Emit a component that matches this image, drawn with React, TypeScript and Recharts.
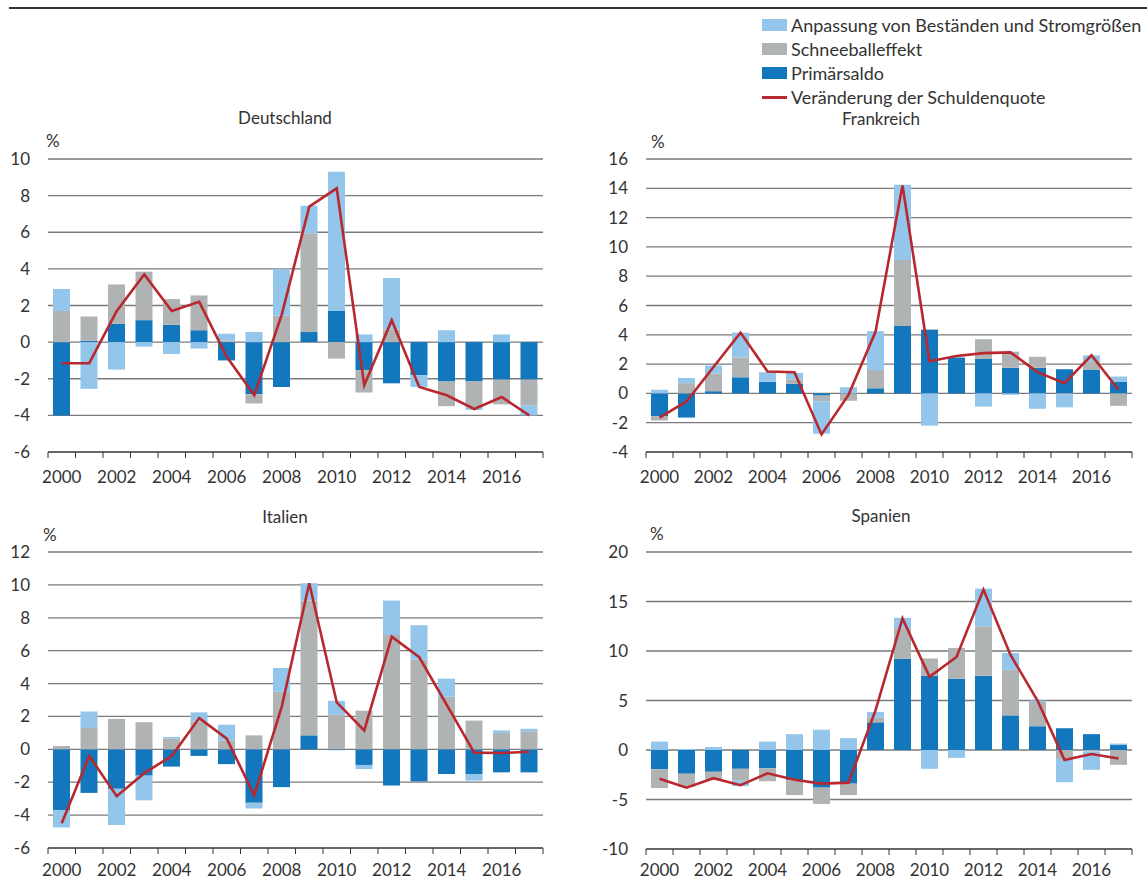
import React from 'react';
import { ComposedChart, Bar, Line, XAxis, YAxis, CartesianGrid } from 'recharts';

const years = [2000, 2001, 2002, 2003, 2004, 2005, 2006, 2007, 2008, 2009, 2010, 2011, 2012, 2013, 2014, 2015, 2016, 2017];

// Deutschland
const dePrimaer = [-4.0, 0.07, 1.0, 1.2, 0.95, 0.65, -1.0, -2.85, -2.45, 0.55, 1.7, -1.53, -2.25, -1.8, -2.15, -2.15, -2.05, -2.05];
const deSchnee = [1.7, 1.33, 2.15, 2.65, 1.4, 1.9, 0.08, -0.5, 1.45, 5.4, -0.9, -1.22, 0.7, 0, -1.35, -1.4, -1.35, -1.4];
const deAnpass = [1.2, -2.55, -1.5, -0.25, -0.65, -0.35, 0.38, 0.55, 2.55, 1.5, 7.6, 0.42, 2.8, -0.65, 0.65, -0.15, 0.42, -0.55];
const deQuote = [-1.15, -1.15, 1.7, 3.7, 1.7, 2.2, -0.8, -2.9, 1.5, 7.4, 8.4, -2.35, 1.2, -2.45, -2.9, -3.65, -3.0, -4.0];

// Frankreich
const frPrimaer = [-1.55, -1.65, 0.15, 1.1, 0.8, 0.65, -0.15, 0.02, 0.35, 4.6, 4.35, 2.45, 2.35, 1.75, 1.75, 1.65, 1.6, 0.8];
const frSchnee = [-0.3, 0.7, 1.2, 1.35, 0, 0.3, -0.4, -0.5, 1.25, 4.5, 0.05, 0, 1.35, 1.1, 0.75, -0.05, 0.6, -0.85];
const frAnpass = [0.25, 0.35, 0.55, 1.7, 0.65, 0.45, -2.2, 0.4, 2.65, 5.15, -2.2, 0, -0.9, -0.1, -1.05, -0.9, 0.4, 0.35];
const frQuote = [-1.65, -0.55, 1.8, 4.15, 1.5, 1.45, -2.8, -0.1, 4.2, 14.2, 2.2, 2.55, 2.75, 2.8, 1.45, 0.7, 2.6, 0.25];

// Italien
const itPrimaer = [-3.7, -2.65, -2.4, -1.6, -1.05, -0.4, -0.9, -3.25, -2.3, 0.85, -0.05, -0.95, -2.2, -1.95, -1.5, -1.5, -1.4, -1.4];
const itSchnee = [0.2, 1.3, 1.85, 1.65, 0.65, 1.7, 0.55, 0.85, 3.5, 8.2, 2.1, 2.35, 6.95, 5.45, 3.2, 1.75, 1.0, 1.1];
const itAnpass = [-1.05, 1.0, -2.2, -1.5, 0.1, 0.55, 0.95, -0.35, 1.45, 1.05, 0.85, -0.25, 2.1, 2.1, 1.1, -0.4, 0.15, 0.15];
const itQuote = [-4.5, -0.4, -2.85, -1.45, -0.4, 1.9, 0.65, -2.8, 2.6, 10.1, 2.85, 1.15, 6.85, 5.6, 2.7, -0.2, -0.22, -0.15];

// Spanien
const esPrimaer = [-1.95, -2.4, -2.2, -1.9, -1.85, -3.05, -3.8, -3.4, 2.8, 9.2, 7.5, 7.2, 7.5, 3.5, 2.4, 2.2, 1.6, 0.5];
const esSchnee = [-1.9, -1.3, -0.8, -1.2, -1.3, -1.5, -1.65, -1.15, 0.45, 3.1, 1.75, 3.1, 5.0, 4.6, 2.45, -0.9, -0.15, -1.5];
const esAnpass = [0.85, 0.1, 0.3, -0.55, 0.85, 1.6, 2.05, 1.2, 0.6, 1.05, -1.9, -0.8, 3.8, 1.7, 0.15, -2.35, -1.85, 0.15];
const esQuote = [-2.9, -3.8, -2.85, -3.55, -2.35, -3.0, -3.4, -3.3, 4.0, 13.3, 7.4, 9.4, 16.2, 9.6, 5.0, -1.0, -0.4, -0.85];

const deTicks = [-6, -4, -2, 0, 2, 4, 6, 8, 10];
const frTicks = [-4, -2, 0, 2, 4, 6, 8, 10, 12, 14, 16];
const itTicks = [-6, -4, -2, 0, 2, 4, 6, 8, 10, 12];
const esTicks = [-10, -5, 0, 5, 10, 15, 20];

const legendLabels = ['Anpassung von Beständen und Stromgrößen', 'Schneeballeffekt', 'Primärsaldo', 'Veränderung der Schuldenquote'];

const C_LIGHT = '#93c6ea';
const C_GRAY = '#b0b3b3';
const C_DARK = '#1277bd';
const C_RED = '#b8282e';
const TEXT = '#333333';
const FONT = 'Lato, "Open Sans", sans-serif';

function buildRows(p: number[], s: number[], a: number[], l: number[]) {
  return years.map((y, i) => ({ year: y, p: p[i], s: s[i], a: a[i], l: l[i] }));
}

function makeTick(bw: number, n: number, labelOffset: number) {
  return (props: any) => {
    const { x, y, payload, index } = props;
    const yr = Number(payload.value);
    return (
      <g>
        <line x1={x - bw / 2} x2={x - bw / 2} y1={y} y2={y + 6} stroke="#333" strokeWidth={1} />
        {index === n - 1 && <line x1={x + bw / 2} x2={x + bw / 2} y1={y} y2={y + 6} stroke="#333" strokeWidth={1} />}
        {yr % 2 === 0 && (
          <text x={x} y={y + labelOffset} textAnchor="middle" fill={TEXT} fontSize={17}>
            {yr}
          </text>
        )}
      </g>
    );
  };
}

type PanelProps = {
  rows: any[];
  ticks: number[];
  left: number;
  top: number;
  width: number;
  height: number;
  mRight: number;
  plotW: number;
  labelOffset: number;
  title: string;
  titleX: number;
  titleY: number;
  pctX: number;
  pctY: number;
};

function Panel(pp: PanelProps) {
  const bw = pp.plotW / years.length;
  return (
    <>
      <div style={{ position: 'absolute', left: pp.left, top: pp.top }}>
        <ComposedChart
          width={pp.width}
          height={pp.height}
          data={pp.rows}
          stackOffset="sign"
          margin={{ top: 59, right: pp.mRight, bottom: 0, left: 0 }}
        >
          <CartesianGrid vertical={false} stroke="#7a7a7a" strokeWidth={1.3} />
          <XAxis
            dataKey="year"
            interval={0}
            tickLine={false}
            tickSize={0}
            tickMargin={0}
            height={40}
            axisLine={{ stroke: '#333', strokeWidth: 1 }}
            tick={makeTick(bw, years.length, pp.labelOffset)}
          />
          <YAxis
            type="number"
            width={48}
            domain={[pp.ticks[0], pp.ticks[pp.ticks.length - 1]]}
            ticks={pp.ticks}
            interval={0}
            axisLine={false}
            tickLine={false}
            tickSize={0}
            tickMargin={18}
            tick={{ fill: TEXT, fontSize: 17 }}
          />
          <Bar dataKey="p" stackId="a" fill={C_DARK} barSize={17} isAnimationActive={false} />
          <Bar dataKey="s" stackId="a" fill={C_GRAY} barSize={17} isAnimationActive={false} />
          <Bar dataKey="a" stackId="a" fill={C_LIGHT} barSize={17} isAnimationActive={false} />
          <Line dataKey="l" type="linear" stroke={C_RED} strokeWidth={2.6} dot={false} isAnimationActive={false} />
        </ComposedChart>
      </div>
      <div
        style={{
          position: 'absolute',
          left: pp.titleX,
          top: pp.titleY,
          transform: 'translate(-50%, -50%)',
          fontSize: 17,
          lineHeight: 1,
          color: TEXT,
          whiteSpace: 'nowrap',
        }}
      >
        {pp.title}
      </div>
      <div
        style={{
          position: 'absolute',
          left: pp.pctX,
          top: pp.pctY,
          transform: 'translate(0, -50%)',
          fontSize: 17,
          lineHeight: 1,
          color: TEXT,
        }}
      >
        %
      </div>
    </>
  );
}

function Legend() {
  const colors = [C_LIGHT, C_GRAY, C_DARK];
  const rowsY = [25, 49, 73, 97];
  return (
    <>
      {legendLabels.map((lab, i) => (
        <div key={lab} style={{ position: 'absolute', left: 762, top: rowsY[i], transform: 'translate(0, -50%)', display: 'flex', alignItems: 'center', whiteSpace: 'nowrap' }}>
          {i < 3 ? (
            <div style={{ width: 25, height: 12, background: colors[i] }} />
          ) : (
            <div style={{ width: 25, height: 3, background: C_RED }} />
          )}
          <span style={{ marginLeft: 4, fontSize: 18, lineHeight: 1, color: TEXT }}>{lab}</span>
        </div>
      ))}
    </>
  );
}

export default function App() {
  return (
    <div style={{ position: 'absolute', left: 0, top: 0, width: 1147, height: 881, background: '#fff', fontFamily: FONT, overflow: 'hidden' }}>
      <div style={{ position: 'absolute', left: 9, top: 7, width: 1138, height: 2, background: '#333' }} />
      <Legend />
      <Panel rows={buildRows(dePrimaer, deSchnee, deAnpass, deQuote)} ticks={deTicks} left={0} top={100} width={560} height={392} mRight={17} plotW={495} labelOffset={31}
        title="Deutschland" titleX={285} titleY={117} pctX={46} pctY={140} />
      <Panel rows={buildRows(frPrimaer, frSchnee, frAnpass, frQuote)} ticks={frTicks} left={598} top={100} width={549} height={392} mRight={15} plotW={486} labelOffset={31}
        title="Frankreich" titleX={881} titleY={118} pctX={651} pctY={141} />
      <Panel rows={buildRows(itPrimaer, itSchnee, itAnpass, itQuote)} ticks={itTicks} left={0} top={493} width={560} height={395} mRight={17} plotW={495} labelOffset={28}
        title="Italien" titleX={285} titleY={516} pctX={43} pctY={534} />
      <Panel rows={buildRows(esPrimaer, esSchnee, esAnpass, esQuote)} ticks={esTicks} left={598} top={493} width={549} height={396} mRight={15} plotW={486} labelOffset={27}
        title="Spanien" titleX={881} titleY={515} pctX={650} pctY={533} />
    </div>
  );
}
